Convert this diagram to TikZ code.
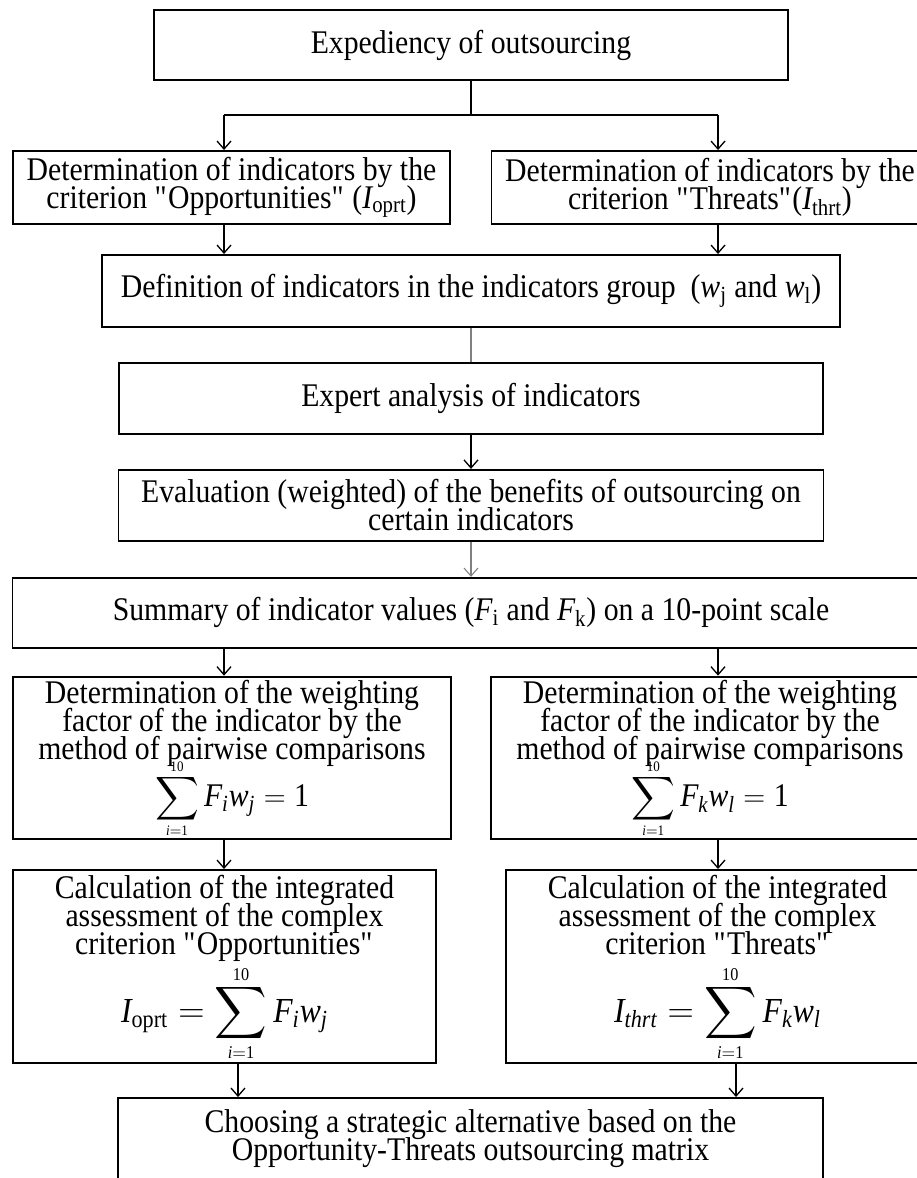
\documentclass[tikz,border=0pt]{standalone}
\usepackage{amsmath}
\usepackage{fontspec}
\setmainfont[FakeStretch=0.9]{Liberation Serif}
\usepackage{tikz}
\usetikzlibrary{positioning,arrows.meta}
\newcommand{\bodyfont}{\fontsize{18.8pt}{15.9pt}\selectfont\lineskiplimit=-30pt\relax}
\newcommand{\sumfont}{\fontsize{16.5pt}{18pt}\selectfont}
\newcommand{\bigsumfont}{\fontsize{20.5pt}{22pt}\selectfont}
\newcommand{\bigformula}{\fontsize{20pt}{22pt}\selectfont}
\newcommand{\itx}[1]{\textit{#1}}
\newcommand{\upx}[1]{\textup{#1}}
\newcommand{\dq}{\XeTeXglyph\XeTeXcharglyph"22\relax}
% sum sign with small limits set close to it
\newcommand{\sumten}{\mathop{\vcenter{\offinterlineskip\halign{\hfil##\hfil\cr
  $\scriptscriptstyle\upx{10}$\cr\noalign{\kern0.1em}
  $\displaystyle\sum$\cr\noalign{\kern0.1em}
  $\scriptscriptstyle\itx{i}=\upx{1}$\cr}}}}
\tikzset{
  box/.style={draw=black,line width=1.1pt,align=center,
    inner xsep=2pt,inner ysep=2pt,font=\bodyfont},
  arrow/.style={-{Straight Barb[length=1.6mm,width=2.8mm]},line width=0.75pt},
  link/.style={line width=0.75pt},
  greylink/.style={draw=black!50,line width=0.6pt},
  greyarrow/.style={greylink,-{Straight Barb[length=1.6mm,width=2.8mm]}}
}

\begin{document}
\begin{tikzpicture}
  \useasboundingbox (0,0) rectangle (18.34,-23.56);
  \clip (0,0) rectangle (18.34,-23.56);

  \node[box, minimum width=12.68cm, minimum height=1.40cm] (expediency) at (9.42,-0.90) {Expediency of outsourcing};

  \node[box, minimum width=8.74cm, minimum height=1.46cm] (detopp) at (4.63,-3.75)
    {Determination of indicators by the\\criterion \dq Opportunities\dq{} ($\itx{I}_{\upx{oprt}}$)};
  \node[box, minimum width=8.74cm, minimum height=1.46cm] (detthr) at (14.20,-3.75)
    {Determination of indicators by the\\criterion \dq Threats\dq($\itx{I}_{\upx{thrt}}$)};

  \node[box, minimum width=14.76cm, minimum height=1.44cm] (defn) at (9.42,-5.82)
    {Definition of indicators in the indicators group~ ($\itx{w}_{\upx{j}}$ and $\itx{w}_{\upx{l}}$)};
  \node[box, minimum width=14.08cm, minimum height=1.42cm, below=0.68cm of defn] (expert)
    {Expert analysis of indicators};
  \node[box, minimum width=14.10cm, minimum height=1.42cm, below=0.68cm of expert] (evaluation)
    {Evaluation (weighted) of the benefits of outsourcing on\\certain indicators};
  \node[box, minimum width=18.34cm, minimum height=1.40cm, below=0.70cm of evaluation] (summary)
    {Summary of indicator values ($\itx{F}_{\upx{i}}$ and $\itx{F}_{\upx{k}}$) on a 10-point scale};

  % weighting factors
  \node[box, minimum width=8.76cm, minimum height=3.24cm] (weightopp) at (4.64,-15.16)
    {Determination of the weighting\\factor of the indicator by the\\method of pairwise comparisons\\[11pt]
     $\mbox{\sumfont$\sumten$}\,\itx{F}_{\itx{i}}\itx{w}_{\itx{j}}=\upx{1}$};
  \node[box, minimum width=8.76cm, minimum height=3.24cm] (weightthr) at (14.20,-15.16)
    {Determination of the weighting\\factor of the indicator by the\\method of pairwise comparisons\\[11pt]
     $\mbox{\sumfont$\sumten$}\,\itx{F}_{\itx{k}}\itx{w}_{\itx{l}}=\upx{1}$};

  % integrated assessment
  \node[box, minimum width=8.46cm, minimum height=3.86cm] (calcopp) at (4.49,-19.33)
    {Calculation of the integrated\\assessment of the complex\\criterion \dq Opportunities\dq\\[23pt]
     {\bigformula$\itx{I}_{\upx{oprt}}=\mbox{\bigsumfont$\sumten$}\,\itx{F}_{\itx{i}}\itx{w}_{\itx{j}}$}};
  \node[box, minimum width=8.46cm, minimum height=3.86cm] (calcthr) at (14.35,-19.33)
    {Calculation of the integrated\\assessment of the complex\\criterion \dq Threats\dq\\[23pt]
     {\bigformula$\itx{I}_{\itx{thrt}}=\mbox{\bigsumfont$\sumten$}\,\itx{F}_{\itx{k}}\itx{w}_{\itx{l}}$}};

  \node[box, minimum width=14.10cm, minimum height=1.64cm] (choosing) at (9.41,-22.78)
    {Choosing a strategic alternative based on the\\Opportunity-Threats outsourcing matrix};

  \coordinate (split) at (9.42,-2.30);
  \coordinate (colL) at (4.48,0);
  \coordinate (colR) at (14.36,0);
  \coordinate (outL) at (4.76,0);
  \coordinate (outR) at (14.72,0);

  \draw[link] (expediency) -- (split);
  \draw[link] (split -| colL) -- (split -| colR);
  \draw[arrow] (split -| colL) -- (detopp.north -| colL);
  \draw[arrow] (split -| colR) -- (detthr.north -| colR);
  \draw[arrow] (detopp.south -| colL) -- (defn.north -| colL);
  \draw[arrow] (detthr.south -| colR) -- (defn.north -| colR);
  \draw[greylink] (defn) -- (expert);
  \draw[arrow] (expert) -- (evaluation);
  \draw[greyarrow] (evaluation) -- (summary);
  \draw[arrow] (summary.south -| colL) -- (weightopp.north -| colL);
  \draw[arrow] (summary.south -| colR) -- (weightthr.north -| colR);
  \draw[arrow] (weightopp.south -| colL) -- (calcopp.north -| colL);
  \draw[arrow] (weightthr.south -| colR) -- (calcthr.north -| colR);
  \draw[arrow] (calcopp.south -| outL) -- (choosing.north -| outL);
  \draw[arrow] (calcthr.south -| outR) -- (choosing.north -| outR);
\end{tikzpicture}
\end{document}
